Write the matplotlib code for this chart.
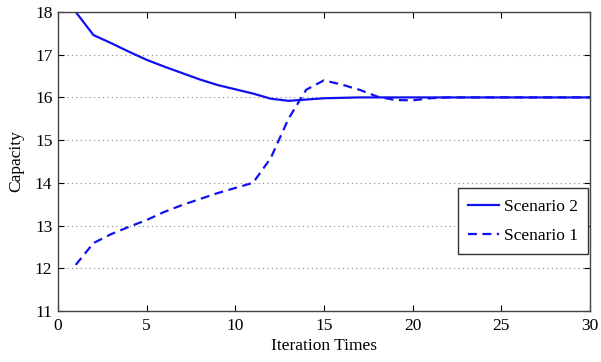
import matplotlib
matplotlib.use('Agg')
import matplotlib.pyplot as plt

iterations = list(range(1, 31))

scenario2 = [18.0, 17.46, 17.27, 17.07, 16.88, 16.72, 16.57, 16.42, 16.29, 16.19,
             16.09, 15.97, 15.92, 15.95, 15.98, 15.99, 16.0, 16.0, 16.0, 16.0,
             16.0, 16.0, 16.0, 16.0, 16.0, 16.0, 16.0, 16.0, 16.0, 16.0]
scenario1 = [12.08, 12.59, 12.8, 12.97, 13.13, 13.32, 13.48, 13.62, 13.76, 13.88,
             14.0, 14.58, 15.5, 16.18, 16.4, 16.3, 16.18, 16.02, 15.94, 15.93,
             15.98, 16.0, 16.0, 16.0, 16.0, 16.0, 16.0, 16.0, 16.0, 16.0]

plt.rcParams['font.family'] = ['Liberation Serif', 'DejaVu Serif']

fig = plt.figure(figsize=(6.01, 3.62), dpi=100)
ax = fig.add_axes([0.0965, 0.1409, 0.885, 0.826])

ax.plot(iterations, scenario2, color='#1010f0', lw=1.6, label='Scenario 2')
ax.plot(iterations, scenario1, color='#1010f0', lw=1.6, ls=(0, (4, 2.5)), label='Scenario 1')

ax.set_xlim(0, 30)
ax.set_ylim(11, 18)
ax.set_xticks([0, 5, 10, 15, 20, 25, 30])
ax.set_yticks(range(11, 19))
ax.yaxis.grid(True, ls=(0, (1, 3)), color='#888888', lw=0.8)
ax.tick_params(direction='in', top=True, right=True, labelsize=12.5, length=4.5)
ax.tick_params(axis='x', pad=5)
ax.tick_params(axis='y', pad=4)
for s in ax.spines.values():
    s.set_color('#444444')
    s.set_linewidth(1.0)

ax.set_xlabel('Iteration Times', fontsize=12.5, labelpad=3)
ax.set_ylabel('Capacity', fontsize=12.5, labelpad=8)

leg = ax.legend(loc='upper left', bbox_to_anchor=(0.752, 0.411), borderaxespad=0,
                fontsize=12.5, fancybox=False, edgecolor='#333333', framealpha=1,
                handlelength=1.75, handletextpad=0.3, labelspacing=0.75,
                borderpad=0.6)
leg.get_frame().set_linewidth(1.0)

fig.savefig('out.png', dpi=100)
